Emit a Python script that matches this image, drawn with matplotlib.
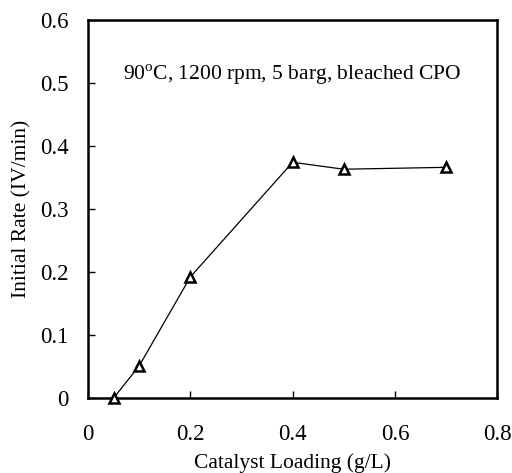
import matplotlib
matplotlib.use('Agg')
from matplotlib import pyplot as plt

# catalyst loading (g/L) vs initial rate (IV/min)
loading = [0.05, 0.1, 0.2, 0.4, 0.5, 0.7]
rate = [0.0, 0.051, 0.192, 0.374, 0.363, 0.366]

x_ticks = [0, 0.2, 0.4, 0.6, 0.8]
x_labels = ['0', '0.2', '0.4', '0.6', '0.8']
y_ticks = [0, 0.1, 0.2, 0.3, 0.4, 0.5, 0.6]
y_labels = ['0', '0.1', '0.2', '0.3', '0.4', '0.5', '0.6']

plt.rcParams['font.family'] = ['Liberation Serif', 'DejaVu Serif']
plt.rcParams['mathtext.fontset'] = 'custom'
plt.rcParams['mathtext.rm'] = 'Liberation Serif'

fig = plt.figure(figsize=(5.12, 4.73), dpi=100)
ax = fig.add_axes([0.172, 0.1586, 0.799, 0.7994])

ax.plot(loading, rate, color='black', linewidth=0.9, marker='^',
        markersize=7, markerfacecolor='white', markeredgecolor='black',
        markeredgewidth=1.8, clip_on=False, zorder=3)

ax.set_xlim(0, 0.8)
ax.set_ylim(0, 0.6)
ax.set_xticks(x_ticks)
ax.set_xticklabels(x_labels)
ax.set_yticks(y_ticks)
ax.set_yticklabels(y_labels)
ax.tick_params(axis='both', direction='in', length=5, width=1,
               labelsize=16.5, pad=19)
ax.tick_params(axis='y', pad=14)
for s in ax.spines.values():
    s.set_linewidth(1.8)

ax.set_xlabel('Catalyst Loading (g/L)', fontsize=15.5, labelpad=6)
ax.set_ylabel('Initial Rate (IV/min)', fontsize=15.5, labelpad=6)

ax.text(0.5, 0.855, r'90$^{\rm o}$C, 1200 rpm, 5 barg, bleached CPO',
        transform=ax.transAxes, ha='center', va='center', fontsize=15.5)

fig.savefig('out.png', dpi=100)
